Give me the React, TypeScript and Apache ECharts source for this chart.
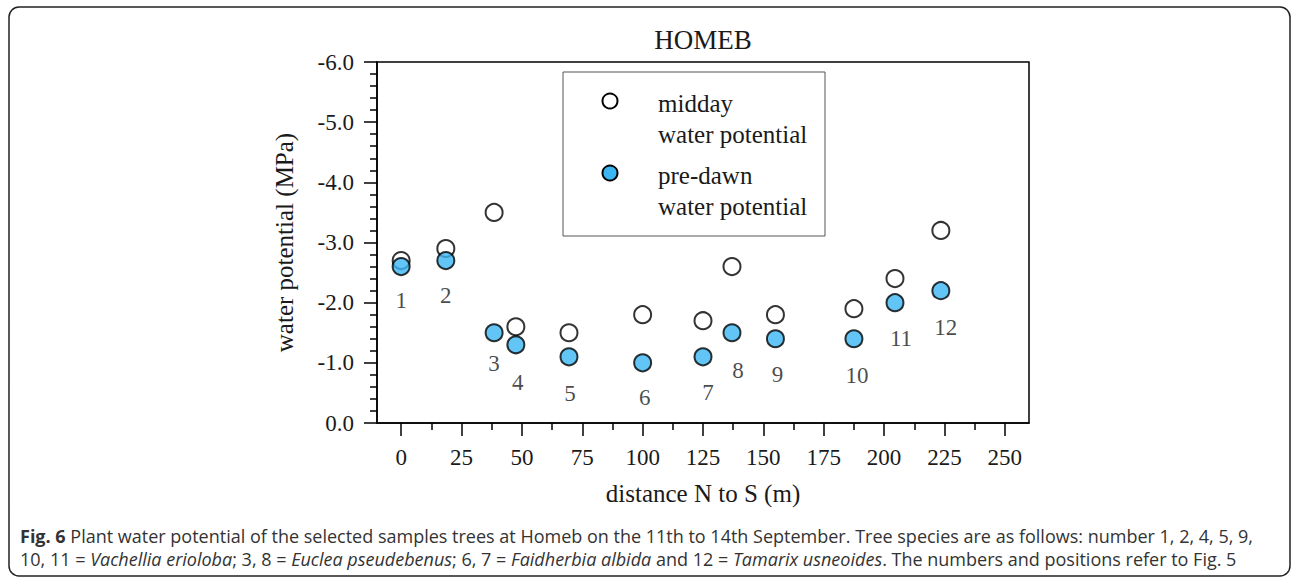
import React, { useEffect, useRef } from "react";
import * as echarts from "echarts";

// ---- data ----
const distances = [0, 18.5, 38.5, 47.5, 69.5, 100, 125, 137, 155, 187.5, 204.5, 223.5];
const middayWP = [-2.7, -2.9, -3.5, -1.6, -1.5, -1.8, -1.7, -2.6, -1.8, -1.9, -2.4, -3.2];
const predawnWP = [-2.6, -2.7, -1.5, -1.3, -1.1, -1.0, -1.1, -1.5, -1.4, -1.4, -2.0, -2.2];
const treeNumbers = ["1", "2", "3", "4", "5", "6", "7", "8", "9", "10", "11", "12"];
const xMajorTicks = [0, 25, 50, 75, 100, 125, 150, 175, 200, 225, 250];
const xMinorTicks = [12.5, 37.5, 62.5, 87.5, 112.5, 137.5, 162.5, 187.5, 212.5, 237.5];
const legendNames = ["midday", "pre-dawn"];

// label nudges (pixels) for the tree numbers below the pre-dawn markers
const treeLabelOffsets = [
  [0, 34], [0, 35], [0, 31], [2, 38], [1, 37], [2, 35],
  [5, 36], [6, 38], [2, 36], [3, 37], [6, 36], [5, 37],
];

const SERIF = "'Liberation Serif', 'DejaVu Serif', serif";
const SANS = "'Open Sans', 'Noto Sans', sans-serif";
const INK = "#1a1a1a";
const BLUE = "#3cb6f2";
const CAP = 18;

export default function App() {
  const ref = useRef<HTMLDivElement>(null);

  useEffect(() => {
    if (!ref.current) return;
    const chart = echarts.init(ref.current, undefined, { renderer: "svg" });

    const midday = distances.map((d, i) => [d, middayWP[i]]);
    const predawn = distances.map((d, i) => ({
      value: [d, predawnWP[i]],
      label: { offset: treeLabelOffsets[i] },
    }));

    const option: any = {
      animation: false,
      backgroundColor: "#ffffff",
      grid: {
        show: true,
        left: 377,
        top: 62,
        width: 652,
        height: 361,
        borderColor: "#000",
        borderWidth: 1.5,
        backgroundColor: "transparent",
      },
      xAxis: [
        {
          type: "value",
          min: -10,
          max: 260,
          name: "distance N to S (m)",
          nameLocation: "middle",
          nameGap: 58,
          nameTextStyle: { fontFamily: SERIF, fontSize: 25, color: INK },
          axisLine: { show: true, onZero: false, lineStyle: { color: "#000", width: 1.5 } },
          axisTick: {
            show: true,
            customValues: xMajorTicks,
            length: 13,
            lineStyle: { color: "#000", width: 1.5 },
          },
          axisLabel: {
            customValues: xMajorTicks,
            fontFamily: SERIF,
            fontSize: 23,
            color: INK,
            margin: 23,
          },
          splitLine: { show: false },
        },
        {
          type: "value",
          min: -10,
          max: 260,
          position: "bottom",
          axisLine: { show: false, onZero: false },
          axisTick: {
            show: true,
            customValues: xMinorTicks,
            length: 7,
            lineStyle: { color: "#000", width: 1.5 },
          },
          axisLabel: { show: false },
          splitLine: { show: false },
        },
      ],
      yAxis: {
        type: "value",
        min: -6,
        max: 0,
        interval: 1,
        inverse: true,
        name: "water potential (MPa)",
        nameLocation: "middle",
        nameGap: 80,
        nameTextStyle: { fontFamily: SERIF, fontSize: 25, color: INK },
        axisLine: { show: true, onZero: false, lineStyle: { color: "#000", width: 1.5 } },
        axisTick: { show: true, length: 13, lineStyle: { color: "#000", width: 1.5 } },
        minorTick: { show: true, splitNumber: 5, length: 7, lineStyle: { color: "#000", width: 1.5 } },
        axisLabel: {
          fontFamily: SERIF,
          fontSize: 23,
          color: INK,
          margin: 23,
          formatter: (v: number) => v.toFixed(1),
        },
        splitLine: { show: false },
      },
      series: [
        {
          name: legendNames[0],
          type: "scatter",
          xAxisIndex: 0,
          data: midday,
          symbol: "circle",
          symbolSize: 17,
          itemStyle: { color: "#ffffff", borderColor: "#000", borderWidth: 2 },
          z: 3,
        },
        {
          name: legendNames[1],
          type: "scatter",
          xAxisIndex: 0,
          data: predawn,
          symbol: "circle",
          symbolSize: 17,
          itemStyle: { color: BLUE, borderColor: "#000", borderWidth: 2 },
          z: 4,
          label: {
            show: true,
            position: "inside",
            formatter: (p: any) => treeNumbers[p.dataIndex],
            fontFamily: SERIF,
            fontSize: 23,
            color: INK,
            textBorderWidth: 0,
            textBorderColor: "transparent",
          },
        },
      ],
      graphic: [
        // outer rounded frame
        {
          type: "rect",
          shape: { x: 9, y: 7, width: 1281, height: 569, r: 10 },
          style: { fill: "none", stroke: "#222", lineWidth: 1.5 },
          silent: true,
          z: 0,
        },
        // title
        {
          type: "text",
          x: 703,
          y: 40,
          style: {
            text: "HOMEB",
            font: `27px ${SERIF}`,
            fill: INK,
            textAlign: "center",
            textVerticalAlign: "middle",
          },
        },
        // legend box
        {
          type: "rect",
          shape: { x: 563, y: 72, width: 262, height: 164 },
          style: { fill: "#fff", stroke: "#555", lineWidth: 1 },
          z: 10,
        },
        {
          type: "circle",
          shape: { cx: 610, cy: 101, r: 7.5 },
          style: { fill: "#fff", stroke: "#000", lineWidth: 2 },
          z: 11,
        },
        {
          type: "circle",
          shape: { cx: 610, cy: 173, r: 7.5 },
          style: { fill: BLUE, stroke: "#000", lineWidth: 2 },
          z: 11,
        },
        {
          type: "text",
          x: 658,
          y: 103,
          z: 11,
          style: { text: legendNames[0], font: `25px ${SERIF}`, fill: INK, textVerticalAlign: "middle" },
        },
        {
          type: "text",
          x: 658,
          y: 134,
          z: 11,
          style: { text: "water potential", font: `25px ${SERIF}`, fill: INK, textVerticalAlign: "middle" },
        },
        {
          type: "text",
          x: 658,
          y: 175,
          z: 11,
          style: { text: legendNames[1], font: `25px ${SERIF}`, fill: INK, textVerticalAlign: "middle" },
        },
        {
          type: "text",
          x: 658,
          y: 206,
          z: 11,
          style: { text: "water potential", font: `25px ${SERIF}`, fill: INK, textVerticalAlign: "middle" },
        },
        // caption
        {
          type: "text",
          x: 20,
          y: 536,
          style: {
            text:
              "{b|Fig. 6} Plant water potential of the selected samples trees at Homeb on the 11th to 14th September. Tree species are as follows: number 1, 2, 4, 5, 9,",
            font: `${CAP}px ${SANS}`,
            fill: "#333",
            textVerticalAlign: "middle",
            rich: { b: { fontWeight: "bold", fontFamily: SANS, fontSize: CAP, fill: "#333" } },
          },
        },
        {
          type: "text",
          x: 20,
          y: 559,
          style: {
            text:
              "10, 11 = {i|Vachellia erioloba}; 3, 8 = {i|Euclea pseudebenus}; 6, 7 = {i|Faidherbia albida} and 12 = {i|Tamarix usneoides}. The numbers and positions refer to Fig. 5",
            font: `${CAP}px ${SANS}`,
            fill: "#333",
            textVerticalAlign: "middle",
            rich: { i: { fontStyle: "italic", fontFamily: SANS, fontSize: CAP, fill: "#333" } },
          },
        },
      ],
    };

    chart.setOption(option);
    return () => chart.dispose();
  }, []);

  return (
    <div
      ref={ref}
      style={{ position: "absolute", left: 0, top: 0, width: 1292, height: 578 }}
    />
  );
}
